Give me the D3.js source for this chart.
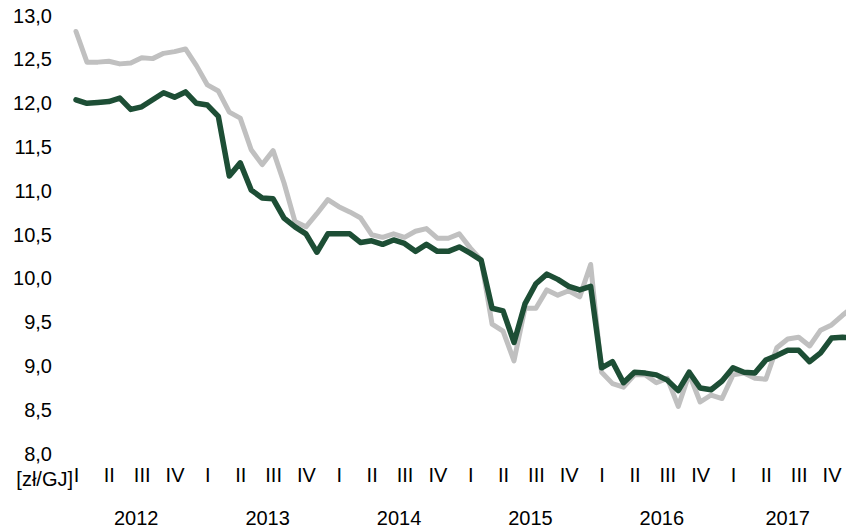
<!DOCTYPE html>
<html>
<head>
<meta charset="utf-8">
<script src="https://cdn.jsdelivr.net/npm/d3@7"></script>
<style>
  html, body { margin: 0; padding: 0; background: #fff; }
  svg { display: block; }
  text { font-family: "Liberation Sans", Arial, sans-serif; font-size: 20px; fill: #000; }
</style>
</head>
<body>
<svg id="chart" width="846" height="529"></svg>
<script>
// Monthly data Jan 2012 - Dec 2017 (72 months)
const years = [2012, 2013, 2014, 2015, 2016, 2017];
const quarterLabels = ["I", "II", "III", "IV"];
const yTicks = [8.0, 8.5, 9.0, 9.5, 10.0, 10.5, 11.0, 11.5, 12.0, 12.5, 13.0];
const unitLabel = "[zł/GJ]";

const greySeries = [
  12.82, 12.47, 12.47, 12.48, 12.45, 12.46, 12.52, 12.51, 12.57, 12.59, 12.62, 12.43,
  12.21, 12.14, 11.90, 11.83, 11.47, 11.30, 11.46, 11.09, 10.65, 10.59, 10.74, 10.90,
  10.82, 10.76, 10.69, 10.50, 10.47, 10.51, 10.47, 10.54, 10.57, 10.46, 10.46, 10.51,
  10.35, 10.21, 9.48, 9.40, 9.06, 9.66, 9.66, 9.87, 9.81, 9.86, 9.79, 10.16,
  8.93, 8.80, 8.76, 8.90, 8.90, 8.81, 8.86, 8.54, 8.91, 8.59, 8.67, 8.63,
  8.90, 8.92, 8.86, 8.85, 9.21, 9.31, 9.33, 9.23, 9.41, 9.47, 9.58, 9.68
];

const greenSeries = [
  12.04, 12.00, 12.01, 12.02, 12.06, 11.93, 11.96, 12.04, 12.12, 12.07, 12.13, 12.00,
  11.98, 11.85, 11.17, 11.32, 11.01, 10.92, 10.91, 10.69, 10.59, 10.51, 10.30, 10.51,
  10.51, 10.51, 10.41, 10.43, 10.39, 10.44, 10.40, 10.31, 10.39, 10.31, 10.31, 10.36,
  10.29, 10.21, 9.66, 9.63, 9.27, 9.71, 9.94, 10.05, 9.99, 9.91, 9.87, 9.91,
  8.98, 9.05, 8.81, 8.93, 8.92, 8.90, 8.84, 8.72, 8.93, 8.75, 8.73, 8.83,
  8.98, 8.93, 8.92, 9.07, 9.12, 9.18, 9.18, 9.05, 9.15, 9.32, 9.33, 9.32
];

const W = 846, H = 529;
const svg = d3.select("#chart");

const nMonths = greySeries.length;
const x = d3.scaleLinear().domain([0, nMonths - 1]).range([76, 76 + (nMonths - 1) * 10.95]);
const y = d3.scaleLinear().domain([8, 13]).range([453.7, 15.7]);

// Y axis (labels only)
const fmt = v => d3.format(".1f")(v).replace(".", ",");
const yAxis = d3.axisLeft(y).tickValues(yTicks).tickFormat(fmt).tickSize(0).tickPadding(0);
const gy = svg.append("g").attr("transform", "translate(52,0)").call(yAxis);
gy.select(".domain").remove();
gy.selectAll("text").attr("font-family", null).attr("font-size", null).attr("fill", "#000");

// Quarter labels
const qIdx = d3.range(0, nMonths, 3);
const xAxis = d3.axisBottom(x).tickValues(qIdx)
  .tickFormat(i => quarterLabels[(i / 3) % 4]).tickSize(0).tickPadding(0);
const gx = svg.append("g").attr("transform", "translate(0,468)").call(xAxis);
gx.select(".domain").remove();
gx.selectAll("text").attr("font-family", null).attr("font-size", null).attr("fill", "#000")
  .attr("dy", "0.71em");

// Unit label
svg.append("text").attr("x", 73).attr("y", 479).attr("dy", "0.35em")
  .attr("text-anchor", "end").text(unitLabel);

// Year labels, centred on the visible part of each year
svg.append("g").selectAll("text").data(years).enter().append("text")
  .attr("x", (d, k) => {
    const a = x(k * 12) - 5.475;
    const b = Math.min(x(k * 12 + 11) + 5.475, W + 2);
    return (a + b) / 2;
  })
  .attr("y", 524.5).attr("text-anchor", "middle")
  .text(d => d);

// Lines
const line = d3.line().x((d, i) => x(i)).y(d => y(d));
svg.append("path").datum(greySeries).attr("d", line)
  .attr("fill", "none").attr("stroke", "#c0c0c0").attr("stroke-width", 5)
  .attr("stroke-linejoin", "round").attr("stroke-linecap", "round");
svg.append("path").datum(greenSeries).attr("d", line)
  .attr("fill", "none").attr("stroke", "#1d4e35").attr("stroke-width", 5.5)
  .attr("stroke-linejoin", "round").attr("stroke-linecap", "round");
</script>
</body>
</html>
